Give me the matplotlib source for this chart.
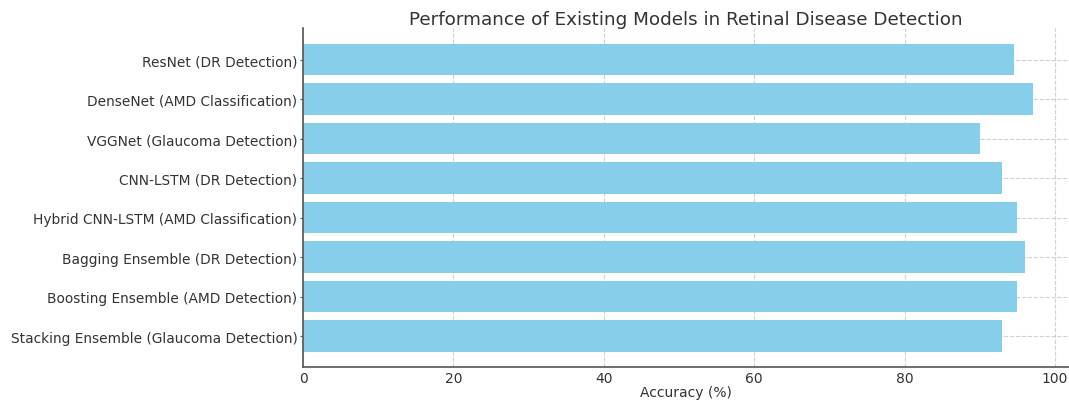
import matplotlib
matplotlib.use("Agg")
import matplotlib.pyplot as plt

models = [
    "ResNet (DR Detection)",
    "DenseNet (AMD Classification)",
    "VGGNet (Glaucoma Detection)",
    "CNN-LSTM (DR Detection)",
    "Hybrid CNN-LSTM (AMD Classification)",
    "Bagging Ensemble (DR Detection)",
    "Boosting Ensemble (AMD Detection)",
    "Stacking Ensemble (Glaucoma Detection)",
]
accuracy = [94.5, 97, 90, 93, 95, 96, 95, 93]
x_ticks = [0, 20, 40, 60, 80, 100]

text_color = "#333333"
plt.rcParams["font.family"] = ["DejaVu Sans"]

fig = plt.figure(figsize=(10.69, 4.02), dpi=100)
ax = fig.add_axes([303 / 1069, 33.7 / 402, 766 / 1069, 339 / 402])

ax.barh(models, accuracy, height=0.8, color="skyblue", zorder=2)
ax.invert_yaxis()

ax.set_xticks(x_ticks)
ax.grid(True, linestyle="--", color="#d0d0d0", linewidth=0.8, zorder=0)
ax.set_axisbelow(True)

for side in ("top", "right"):
    ax.spines[side].set_visible(False)
for side in ("left", "bottom"):
    ax.spines[side].set_color("#555555")
    ax.spines[side].set_linewidth(1.2)

ax.tick_params(axis="x", colors=text_color, labelsize=10, length=0, pad=3)
ax.tick_params(axis="y", colors=text_color, labelsize=9.9, length=2.5,
               pad=1.5, color="#555555")
ax.set_xlabel("Accuracy (%)", fontsize=10, color=text_color, labelpad=0)
ax.set_title("Performance of Existing Models in Retinal Disease Detection",
             fontsize=13.2, color=text_color, pad=3)

fig.savefig("out.png", dpi=100)
